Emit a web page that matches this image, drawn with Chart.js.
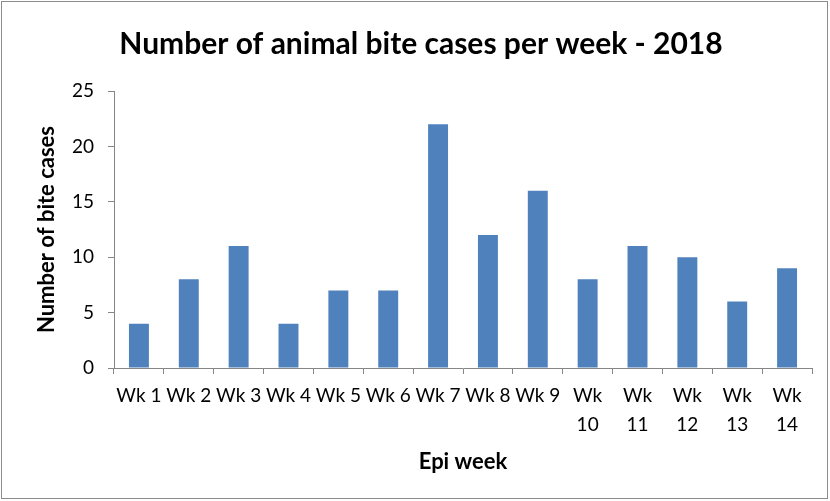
<!DOCTYPE html>
<html>
<head>
<meta charset="utf-8">
<script src="https://cdn.jsdelivr.net/npm/chart.js@4.4.1/dist/chart.umd.min.js"></script>
<style>
  html, body { margin: 0; padding: 0; background: #fff; }
  #wrap { width: 830px; height: 501px; position: relative; }
</style>
</head>
<body>
<div id="wrap"><canvas id="biteChart" width="830" height="501"></canvas></div>
<script>
const weeks = ['Wk 1', 'Wk 2', 'Wk 3', 'Wk 4', 'Wk 5', 'Wk 6', 'Wk 7', 'Wk 8', 'Wk 9',
  ['Wk', '10'], ['Wk', '11'], ['Wk', '12'], ['Wk', '13'], ['Wk', '14']];
const biteCases = [4, 8, 11, 4, 7, 7, 22, 12, 16, 8, 11, 10, 6, 9];
const yTicks = [0, 5, 10, 15, 20, 25];

const fontFamily = 'Lato, "Open Sans", sans-serif';

// thin grey frame around the whole chart
const framePlugin = {
  id: 'frame',
  beforeDraw(chart) {
    const ctx = chart.ctx;
    ctx.save();
    ctx.fillStyle = '#fff';
    ctx.fillRect(0, 0, chart.width, chart.height);
    ctx.strokeStyle = '#8c8c8c';
    ctx.lineWidth = 1;
    ctx.strokeRect(1.5, 1.5, chart.width - 4, chart.height - 4);
    ctx.restore();
  }
};

new Chart(document.getElementById('biteChart'), {
  type: 'bar',
  data: {
    labels: weeks,
    datasets: [{
      label: 'Bite cases',
      data: biteCases,
      backgroundColor: '#4f81bd',
      barPercentage: 0.4,
      categoryPercentage: 1
    }]
  },
  options: {
    responsive: false,
    animation: false,
    layout: { padding: { left: 30, right: 18, top: 0, bottom: 0 } },
    plugins: {
      legend: { display: false },
      tooltip: { enabled: false },
      title: {
        display: true,
        text: 'Number of animal bite cases per week - 2018',
        color: '#000',
        font: { family: fontFamily, size: 30, weight: 'bold' },
        padding: { top: 26, bottom: 29 }
      }
    },
    scales: {
      x: {
        afterFit(axis) {
          axis.height = 133;
        },
        grid: {
          display: true,
          drawOnChartArea: false,
          offset: true,
          tickLength: 6,
          color: '#868686'
        },
        border: { color: '#868686', width: 1 },
        ticks: {
          color: '#000',
          font: { family: fontFamily, size: 19, lineHeight: 1.55 },
          maxRotation: 0,
          autoSkip: false,
          padding: 7
        },
        title: {
          display: true,
          text: 'Epi week',
          color: '#000',
          font: { family: fontFamily, size: 22, weight: 'bold' },
          padding: { top: 0, bottom: 26 }
        }
      },
      y: {
        min: 0,
        max: 25,
        afterBuildTicks(axis) {
          axis.ticks = yTicks.map((v) => ({ value: v }));
        },
        afterFit(axis) {
          axis.width = 84;
        },
        grid: {
          display: true,
          drawOnChartArea: false,
          tickLength: 6,
          color: '#868686'
        },
        border: { color: '#868686', width: 1 },
        ticks: {
          color: '#000',
          font: { family: fontFamily, size: 19 },
          padding: 14
        },
        title: {
          display: true,
          text: 'Number of bite cases',
          color: '#000',
          font: { family: fontFamily, size: 22, weight: 'bold' },
          padding: { top: 4, bottom: 0 }
        }
      }
    }
  },
  plugins: [framePlugin]
});
</script>
</body>
</html>
